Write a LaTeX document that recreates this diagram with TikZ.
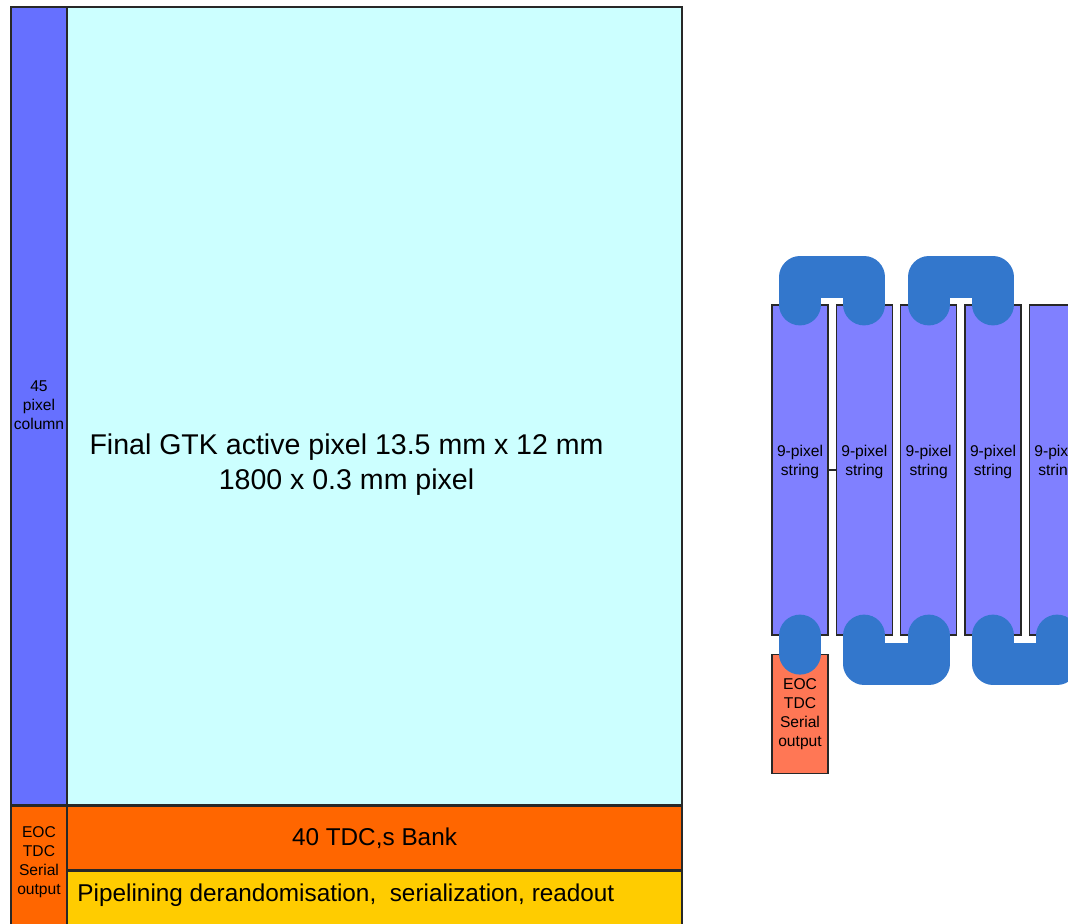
\documentclass[tikz,border=0pt]{standalone}
\usepackage{fontspec}
\setmainfont{Liberation Sans}
\usepackage{xcolor}
\usepackage{tikz}
\usetikzlibrary{positioning, calc}
\definecolor{colblue}{RGB}{102,112,255}
\definecolor{stringblue}{RGB}{128,128,255}
\definecolor{activecyan}{RGB}{204,255,255}
\definecolor{bankorange}{RGB}{255,102,0}
\definecolor{pipeyellow}{RGB}{255,204,0}
\definecolor{eoccoral}{RGB}{255,119,85}
\definecolor{linkblue}{RGB}{51,119,204}
\definecolor{border}{RGB}{40,40,40}

\begin{document}
\begin{tikzpicture}[
    x=0.025cm, y=-0.025cm,
    panel/.style={
        rectangle,
        draw=border,
        line width=1pt,
        inner sep=0pt
    },
    strbox/.style={
        rectangle,
        draw=border,
        line width=0.8pt,
        fill=stringblue,
        align=center,
        inner sep=0pt,
        minimum width=1.4cm,
        minimum height=8.25cm,
        font=\fontsize{11.1}{13.5}\selectfont
    },
    smalltxt/.style={
        align=center,
        inner sep=0pt,
        font=\fontsize{11.1}{13.5}\selectfont
    },
    link/.style={
        draw=linkblue,
        line width=1.05cm,
        line cap=round,
        line join=round
    },
    tick/.style={
        draw=border,
        line width=0.8pt
    }
]

\useasboundingbox (0,0) rectangle (1068,923);

% =========================
% Blocco sinistro (chip)
% =========================
\node[panel, fill=colblue, minimum width=1.4cm, minimum height=19.95cm] (column) at (39,406) {};
\node[smalltxt] (columnlabel) at (39,405) {45\\pixel\\column};

\node[panel, fill=activecyan, minimum width=15.375cm, minimum height=19.95cm] (active) at (374.5,406) {};
\node[align=center, inner sep=0pt, font=\fontsize{20.3}{24.9}\selectfont] (activelabel)
    at (346.5,465) {Final GTK active pixel 13.5 mm x 12 mm\\1800 x 0.3 mm pixel};

\node[panel, fill=bankorange, minimum width=15.375cm, minimum height=1.575cm,
      font=\fontsize{17.3}{20}\selectfont, below=0pt of active] (bank) {40 TDC,s Bank};

\node[panel, fill=pipeyellow, minimum width=15.375cm, minimum height=1.6cm,
      below=0pt of bank] (pipe) {};
\node[anchor=west, inner sep=0pt, font=\fontsize{17.3}{20}\selectfont] (pipelabel)
    at ($(pipe.west)+(11,-8)$) {Pipelining derandomisation,\ \ serialization, readout};

\node[panel, fill=bankorange, minimum width=1.4cm, minimum height=3.175cm,
      below=0pt of column] (eocleft) {};
\node[smalltxt] (eocleftlabel) at ($(eocleft.center)+(0,-8)$) {EOC\\TDC\\Serial\\output};

% =========================
% Catena di stringhe (destra)
% =========================
\node[strbox] (s1) at (800,470) {9-pixel\\string\\};
\node[strbox, right=1.8mm of s1] (s2) {9-pixel\\string\\};
\node[strbox, right=1.8mm of s2] (s3) {9-pixel\\string\\};
\node[strbox, right=1.8mm of s3] (s4) {9-pixel\\string\\};
\node[strbox, right=1.8mm of s4] (s5) {9-pixel\\string\\};

\node[strbox, fill=eoccoral, minimum height=2.975cm, below=0.45cm of s1] (eoc)
    {EOC\\TDC\\Serial\\output};

\draw[tick] (s1.east) -- (s2.west);

% =========================
% Collegamenti tra le stringhe
% =========================
\draw[link] (s1.north) -- ++(0,-27) -| (s2.north);
\draw[link] (s3.north) -- ++(0,-27) -| (s4.north);

\draw[link] (s1.south) -- (eoc.north);
\draw[link] (s2.south) -- ++(0,28) -| (s3.south);
\draw[link] (s4.south) -- ++(0,28) -| (s5.south);

\end{tikzpicture}
\end{document}
